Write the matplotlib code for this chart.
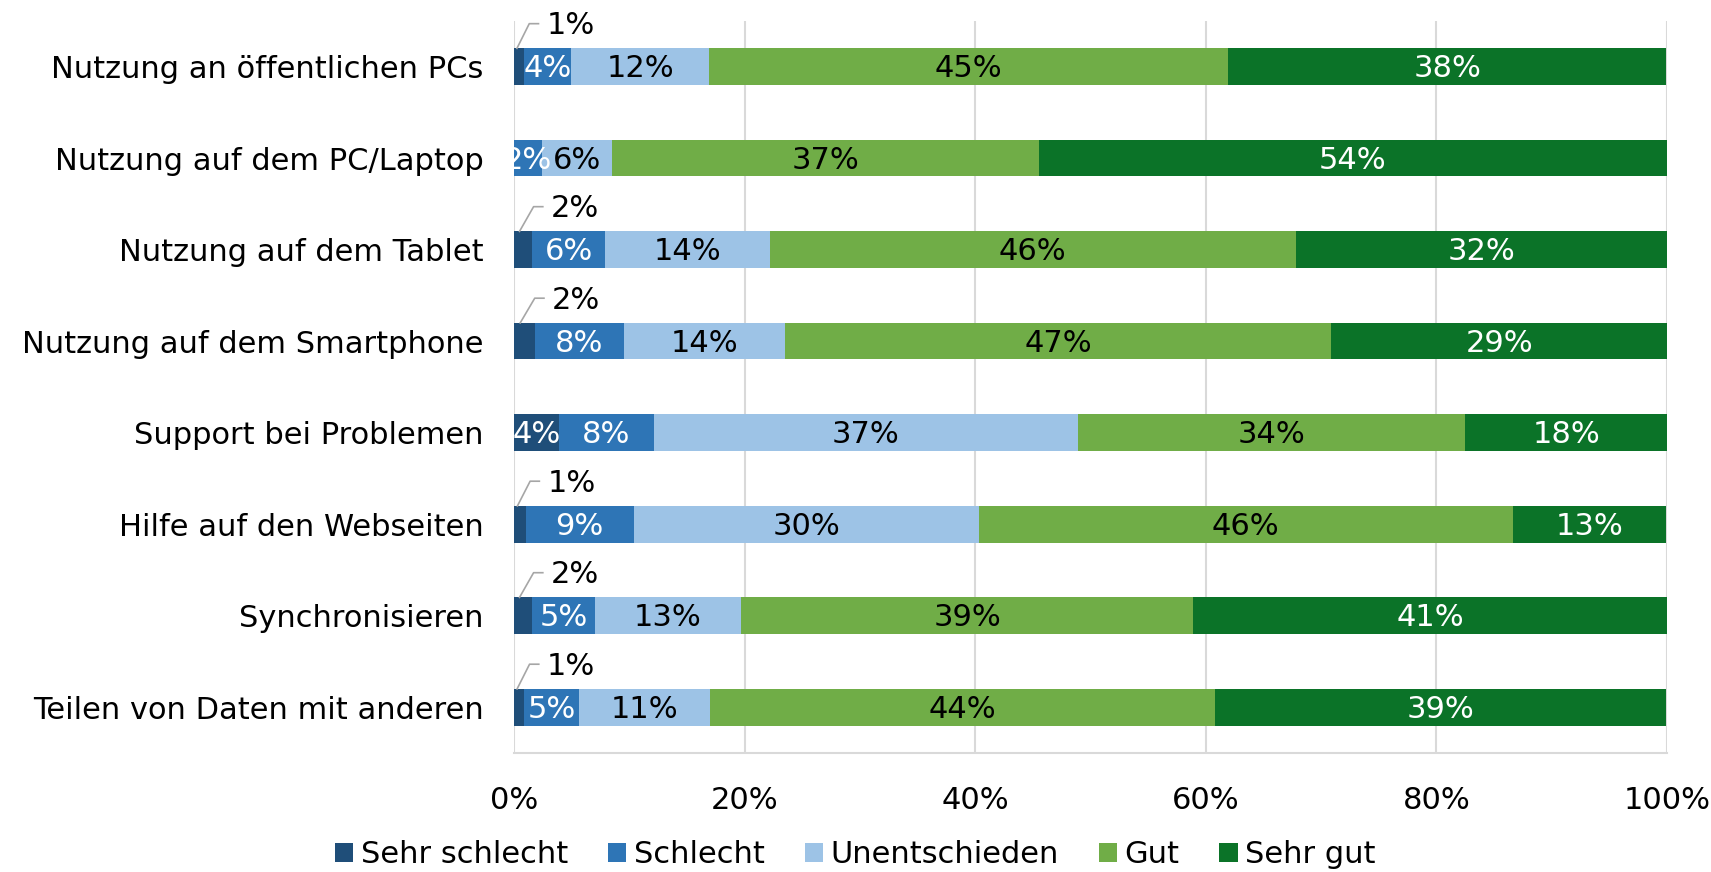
import matplotlib
matplotlib.use("Agg")
import matplotlib.pyplot as plt
import numpy as np

plt.rcParams['font.family'] = ['DejaVu Sans']

# categories (top to bottom)
categories = [
    "Nutzung an öffentlichen PCs",
    "Nutzung auf dem PC/Laptop",
    "Nutzung auf dem Tablet",
    "Nutzung auf dem Smartphone",
    "Support bei Problemen",
    "Hilfe auf den Webseiten",
    "Synchronisieren",
    "Teilen von Daten mit anderen",
]
series_names = ["Sehr schlecht", "Schlecht", "Unentschieden", "Gut", "Sehr gut"]

# percentages
sehr_schlecht = [0.85, 0.0, 1.6, 1.8, 3.9, 1.0, 1.6, 0.9]
schlecht = [4.1, 2.4, 6.3, 7.7, 8.2, 9.4, 5.4, 4.7]
unentschieden = [12.0, 6.1, 14.3, 14.0, 36.8, 29.9, 12.7, 11.4]
gut = [45.0, 37.0, 45.6, 47.4, 33.6, 46.3, 39.2, 43.8]
sehr_gut = [38.0, 54.5, 32.2, 29.1, 17.5, 13.3, 41.2, 39.1]

colors = ["#1F4E79", "#2E75B6", "#9DC3E6", "#70AD47", "#0B7328"]
text_colors = ["white", "white", "black", "black", "white"]

series = [sehr_schlecht, schlecht, unentschieden, gut, sehr_gut]

fig = plt.figure(figsize=(17.11, 8.72), dpi=100)
ax = fig.add_axes([0.3004, 0.1365, 0.6739, 0.8395])

y = np.arange(len(categories))
left = np.zeros(len(categories))
bar_h = 0.40
fs = 22

for k, vals in enumerate(series):
    vals = np.array(vals)
    ax.barh(y, vals, left=left, height=bar_h, color=colors[k],
            label=series_names[k], zorder=3)
    for i, v in enumerate(vals):
        if v <= 0:
            continue
        lbl = f"{round(v):d}%"
        cx = left[i] + v / 2
        if k == 0 and v < 3:
            # callout above the bar
            top = y[i] - bar_h / 2
            ly = y[i] - 0.47
            ax.plot([left[i] + v * 0.3, cx + 0.9, cx + 1.7], [top, ly, ly],
                    color="#a6a6a6", lw=1.2, zorder=4, clip_on=False)
            ax.text(cx + 2.4, ly + 0.02, lbl, ha="left", va="center",
                    fontsize=fs, color="black", zorder=5)
        else:
            ax.text(cx, y[i] + 0.02, lbl, ha="center", va="center",
                    fontsize=fs, color=text_colors[k], zorder=5)
    left = left + vals

ax.set_xlim(0, 100)
ax.set_ylim(len(categories) - 0.5, -0.5)
ax.set_yticks(y)
ax.set_yticklabels(categories, fontsize=fs)
ax.set_xticks(np.arange(0, 101, 20))
ax.set_xticklabels([f"{t}%" for t in range(0, 101, 20)], fontsize=fs)
ax.tick_params(axis="both", length=0)
ax.tick_params(axis="x", pad=24)
ax.tick_params(axis="y", pad=22)
ax.grid(axis="x", color="#d9d9d9", lw=1.5, zorder=0)
for s in ["top", "right", "left"]:
    ax.spines[s].set_visible(False)
ax.spines["bottom"].set_color("#d9d9d9")
ax.spines["bottom"].set_linewidth(1.5)

fig.legend(loc="center", bbox_to_anchor=(0.5, 0.02), ncol=5, frameon=False,
           fontsize=fs, handlelength=0.6, handleheight=0.6, handletextpad=0.25,
           columnspacing=1.3)

fig.savefig("out.png", dpi=100)
